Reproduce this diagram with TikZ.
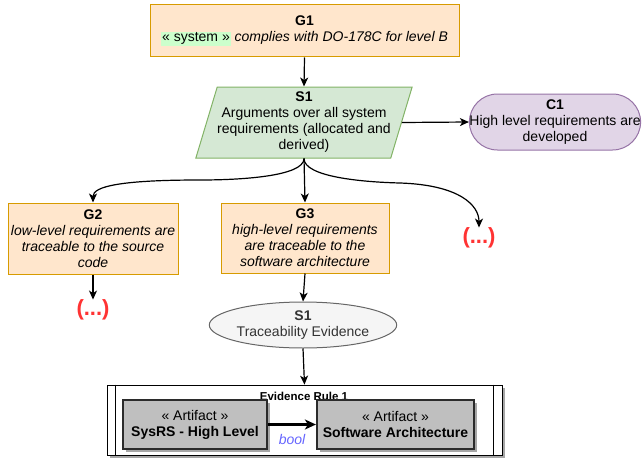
\documentclass[tikz,border=0pt]{standalone}
\usepackage{fontspec}
\setmainfont{Liberation Sans}
\usetikzlibrary{arrows.meta,shapes.geometric,shadows}

\definecolor{goalfill}{HTML}{FFE6CC}
\definecolor{goaldraw}{HTML}{D79B00}
\definecolor{stratfill}{HTML}{D5E8D4}
\definecolor{stratdraw}{HTML}{82B366}
\definecolor{ctxfill}{HTML}{E1D5E7}
\definecolor{ctxdraw}{HTML}{9673A6}
\definecolor{evfill}{HTML}{F5F5F5}
\definecolor{evdraw}{HTML}{666666}
\definecolor{darktext}{HTML}{333333}
\definecolor{artfill}{HTML}{BFBFBF}
\definecolor{artdraw}{HTML}{2B2B2B}
\definecolor{dotsred}{HTML}{FF3333}
\definecolor{boolblue}{HTML}{6666FF}
\definecolor{hlgreen}{HTML}{CCFFCC}

\tikzset{
  base/.style={font=\fontsize{14}{16}\selectfont, align=center, inner sep=0pt},
  goal/.style={base, rectangle, fill=goalfill, draw=goaldraw, line width=1pt},
  strat/.style={base, trapezium, trapezium stretches=true,
    trapezium left angle=70.6, trapezium right angle=109.4,
    fill=stratfill, draw=stratdraw, line width=1pt},
  ctx/.style={base, rectangle, rounded corners=28pt, fill=ctxfill, draw=ctxdraw, line width=1pt},
  evid/.style={base, ellipse, fill=evfill, draw=evdraw, line width=1pt, text=darktext},
  rulebox/.style={rectangle, fill=white, draw=black, line width=0.8pt,
    drop shadow={shadow xshift=3pt, shadow yshift=-3pt, opacity=0.35, fill=black}},
  artifact/.style={base, rectangle, fill=artfill, draw=artdraw, line width=2.2pt, text=black,
    drop shadow={shadow xshift=3pt, shadow yshift=-3pt, opacity=0.35, fill=black}},
  dots/.style={base, font=\fontsize{22}{24}\selectfont\bfseries, text=dotsred},
  link/.style={line width=1.2pt, -{Stealth[length=9pt, width=8pt, inset=2.5pt]}},
}

\begin{document}
\begin{tikzpicture}[x=1pt, y=-1pt]
  \useasboundingbox (0,0) rectangle (642,460);

  % goals, strategy and context
  \node[goal, minimum width=309pt, minimum height=52pt] (g1) at (304.5,31)
    {\textbf{G1}\\{\setlength\fboxsep{1pt}\colorbox{hlgreen}{« system »}} \textit{complies with DO-178C for level B}};

  \node[strat, minimum width=212pt, minimum height=71pt] (s1) at (304,122.5)
    {\textbf{S1}\\Arguments over all system\\requirements (allocated and\\derived)};

  \node[ctx, minimum width=170pt, minimum height=56pt] (c1) at (555,122)
    {\textbf{C1}\\High level requirements are\\developed};

  \node[goal, minimum width=170pt, minimum height=71pt] (g2) at (93,238.5)
    {\textbf{G2}\\\textit{low-level requirements are}\\\textit{traceable to the source}\\\textit{code}};

  \node[goal, minimum width=168pt, minimum height=70pt] (g3) at (305,238)
    {\textbf{G3}\\\textit{high-level requirements}\\\textit{are traceable to the}\\\textit{software architecture}};

  \node[dots] (ldots) at (93,310) {(...)};
  \node[dots] (rdots) at (479,238) {(...)};

  \node[evid, minimum width=139pt, minimum height=46pt] (ev) at (303,325)
    {\textbf{S1}\\Traceability Evidence};

  % evidence rule container
  \node[rulebox, minimum width=395pt, minimum height=70pt] (rule) at (304.5,420) {};
  \draw[line width=0.8pt] ([xshift=9pt]rule.north west) -- ([xshift=9pt]rule.south west);
  \draw[line width=0.8pt] ([xshift=-9pt]rule.north east) -- ([xshift=-9pt]rule.south east);
  \node[base, font=\fontsize{11.5}{13}\selectfont\bfseries] (ruletitle) at (304,396) {Evidence Rule 1};

  \node[artifact, minimum width=144pt, minimum height=49pt] (a1) at (195,424.5)
    {« Artifact »\\\textbf{SysRS - High Level}};
  \node[artifact, minimum width=157pt, minimum height=49pt] (a2) at (395.5,424.5)
    {« Artifact »\\\textbf{Software Architecture}};

  % connectors
  \draw[link] (g1.south) -- (s1.north);
  \draw[link] (s1.east) -- (c1.west);
  \draw[link] (s1.south) -- (g3.north);
  \draw[link] (s1.south) .. controls +(0,18) and +(40,0) .. (200,180)
                         .. controls +(-80,0) and +(0,-16) .. (g2.north);
  \draw[link] (s1.south) .. controls +(0,18) and +(-40,-1) .. (400,183)
                         .. controls +(60,2) and +(0,-22) .. (rdots.north);
  \draw[link] (g2.south) -- (ldots.north);
  \draw[link] (g3.south) -- (ev.north);
  \draw[link] (ev.south) -- (rule.north);
  \draw[line width=2.5pt, -{Stealth[length=11pt, width=10pt, inset=3pt]}] (a1.east) -- (a2.west)
    node[pos=0.5, below=9pt, base, text=boolblue, font=\fontsize{14}{16}\selectfont\itshape] (lbl) {bool};
\end{tikzpicture}
\end{document}
